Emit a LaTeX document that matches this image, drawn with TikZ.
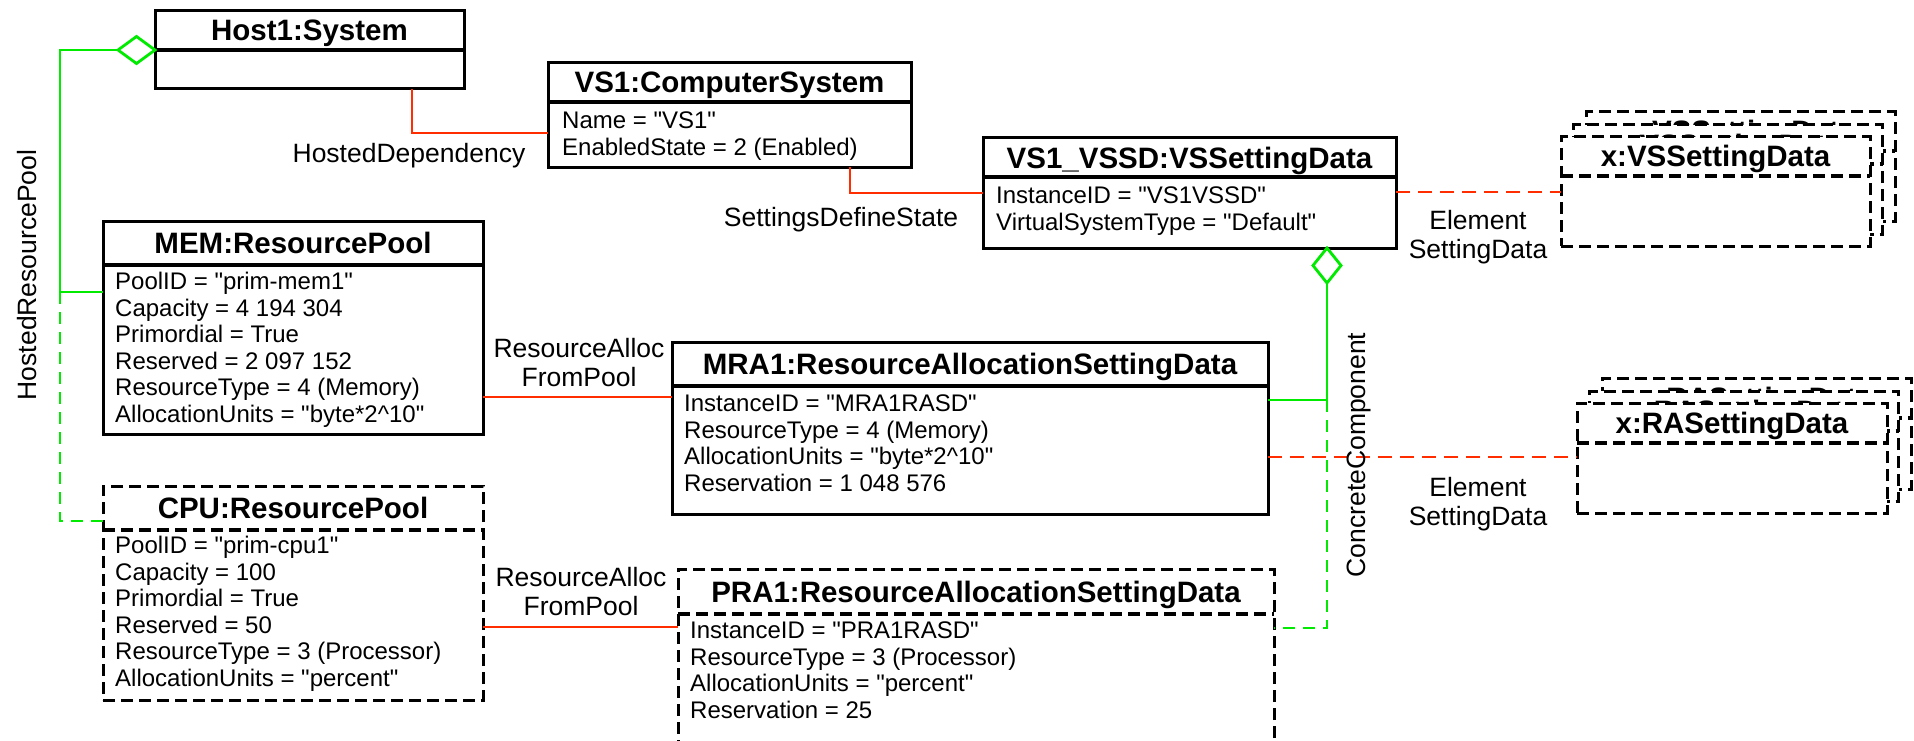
\documentclass[tikz,border=0pt]{standalone}
\usepackage{fontspec}
\setmainfont{Liberation Sans}[Ligatures=TeXOff]
\usetikzlibrary{shapes.geometric}
\definecolor{cgreen}{RGB}{0,235,0}
\definecolor{cred}{RGB}{255,45,0}
\newcommand\dq{\symbol{34}}
\newcommand\titlefont{\fontsize{29.5}{32}\selectfont\bfseries}
\newcommand\attrfont{\fontsize{24}{26.6}\selectfont}
\newcommand\lblfont{\fontsize{26.5}{29}\selectfont}
\tikzset{
  boxline/.style={line width=3pt, draw=black},
  solidbox/.style={boxline},
  dashbox/.style={boxline, dash pattern=on 12pt off 6pt},
  gline/.style={draw=cgreen, line width=2.6pt},
  gdash/.style={gline, dash pattern=on 12pt off 8pt},
  rline/.style={draw=cred, line width=2.4pt},
  rdash/.style={rline, dash pattern=on 14pt off 8pt},
  titletext/.style={font=\titlefont, inner sep=0pt, anchor=base},
  attrtext/.style={font=\attrfont, inner sep=0pt, anchor=base west},
  lbl/.style={font=\lblfont, inner sep=0pt, anchor=base},
  agg/.style={diamond, draw=cgreen, line width=2.8pt, fill=white, inner sep=0pt, outer sep=0pt},
}
\newcommand\umlbox[8]{%
  \node[#8, fill=white, rectangle, inner sep=0pt, outer sep=0pt,
        minimum width={(#4)-(#2)}, minimum height={(#5)-(#3)}, anchor=north west] (#1) at (#2,#3) {};
  \draw[#8, line width=3.5pt] (#1.west |- 0,#6) -- (#1.east |- 0,#6);
  \node[titletext] (#1-title) at ({((#2)+(#4))/2},{((#3)+(#6))/2+10.5}) {#7};
}
\newcommand\attrs[4]{%
  \foreach \attrline [count=\i] in {#4} {
    \node[attrtext] (#1-a\i) at (#2, {(#3)+(\i-1)*26.6}) {\attrline};
  }
}
\begin{document}
\begin{tikzpicture}[x=1pt,y=-1pt]
\useasboundingbox (0,0) rectangle (1914,741);

% ---- boxes ----
\umlbox{host}{155}{11}{464}{89}{50}{Host1:System}{solidbox}

\umlbox{vs1}{548}{63}{911}{167}{102}{VS1:ComputerSystem}{solidbox}
\attrs{vs1}{562}{128.5}{{Name = \dq VS1\dq},{EnabledState = 2 (Enabled)}}

\umlbox{vssd}{983}{138}{1396}{248}{177}{VS1\_VSSD:VSSettingData}{solidbox}
\attrs{vssd}{996}{203.5}{{InstanceID = \dq VS1VSSD\dq},{VirtualSystemType = \dq Default\dq}}

\umlbox{mem}{103}{221}{483}{434}{265}{MEM:ResourcePool}{solidbox}
\attrs{mem}{115}{289.5}{{PoolID = \dq prim-mem1\dq},{Capacity = 4 194 304},{Primordial = True},{Reserved = 2 097 152},{ResourceType = 4 (Memory)},{AllocationUnits = \dq byte*2\textasciicircum10\dq}}

\umlbox{cpu}{103}{486}{483}{700}{530}{CPU:ResourcePool}{dashbox}
\attrs{cpu}{115}{553.5}{{PoolID = \dq prim-cpu1\dq},{Capacity = 100},{Primordial = True},{Reserved = 50},{ResourceType = 3 (Processor)},{AllocationUnits = \dq percent\dq}}

\umlbox{mra}{672}{342}{1268}{514}{386}{MRA1:ResourceAllocationSettingData}{solidbox}
\attrs{mra}{684}{411.5}{{InstanceID = \dq MRA1RASD\dq},{ResourceType = 4 (Memory)},{AllocationUnits = \dq byte*2\textasciicircum10\dq},{Reservation = 1 048 576}}

\umlbox{pra}{678}{569}{1274}{790}{614}{PRA1:ResourceAllocationSettingData}{dashbox}
\attrs{pra}{690}{638.5}{{InstanceID = \dq PRA1RASD\dq},{ResourceType = 3 (Processor)},{AllocationUnits = \dq percent\dq},{Reservation = 25}}

% stacked setting data boxes
\umlbox{vsb}{1586}{112}{1895}{221}{151}{x:VSSettingData}{dashbox}
\umlbox{vsm}{1573.5}{125}{1882.5}{234}{164}{x:VSSettingData}{dashbox}
\umlbox{vsf}{1561}{137}{1870}{246}{176}{x:VSSettingData}{dashbox}

\umlbox{rab}{1602}{378}{1911}{489}{418}{x:RASettingData}{dashbox}
\umlbox{ram}{1589.5}{391}{1898.5}{501}{431}{x:RASettingData}{dashbox}
\umlbox{raf}{1577}{403}{1887}{513}{443}{x:RASettingData}{dashbox}

% ---- aggregation diamonds ----
\node[agg, minimum width=37pt, minimum height=27pt, anchor=east] (d1) at (host.west) {};
\node[agg, minimum width=28pt, minimum height=35pt, anchor=north] (d2) at (vssd.south -| 1327,0) {};

% ---- connectors ----
\coordinate (hrpj) at (60,292);
\draw[gline] (d1.west) -| (hrpj) -- (mem.west |- hrpj);
\draw[gdash] (hrpj) |- (cpu.west |- 0,521);

\draw[rline] (host.south -| 412,0) |- (vs1.west |- 0,133);
\draw[rline] (vs1.south -| 850,0) |- (vssd.west |- 0,193);
\draw[rdash] (vssd.east |- 0,192) -- (vsf.west |- 0,192);

\draw[rline] (mem.east |- 0,397) -- (mra.west |- 0,397);
\draw[rline] (cpu.east |- 0,627) -- (pra.west |- 0,627);

\coordinate (ccj) at (1327,400);
\draw[gline] (d2.south) -- (ccj) -- (mra.east |- ccj);
\draw[gdash] (ccj) |- (pra.east |- 0,628);
\draw[rdash] (mra.east |- 0,457) -- (raf.west |- 0,457);

% ---- labels ----
\node[lbl, rotate=90] (lhrp) at (36,275) {HostedResourcePool};
\node[lbl] (lhd) at (409,163) {HostedDependency};
\node[lbl] (lsds) at (841,226) {SettingsDefineState};
\node[lbl] (lesd1a) at (1478,229) {Element};
\node[lbl] (lesd1b) at (1478,258) {SettingData};
\node[lbl] (lrafp1a) at (579,357) {ResourceAlloc};
\node[lbl] (lrafp1b) at (579,386) {FromPool};
\node[lbl] (lrafp2a) at (581,586) {ResourceAlloc};
\node[lbl] (lrafp2b) at (581,615) {FromPool};
\node[lbl, rotate=90] (lcc) at (1365,455) {ConcreteComponent};
\node[lbl] (lesd2a) at (1478,496) {Element};
\node[lbl] (lesd2b) at (1478,525) {SettingData};
\end{tikzpicture}
\end{document}
